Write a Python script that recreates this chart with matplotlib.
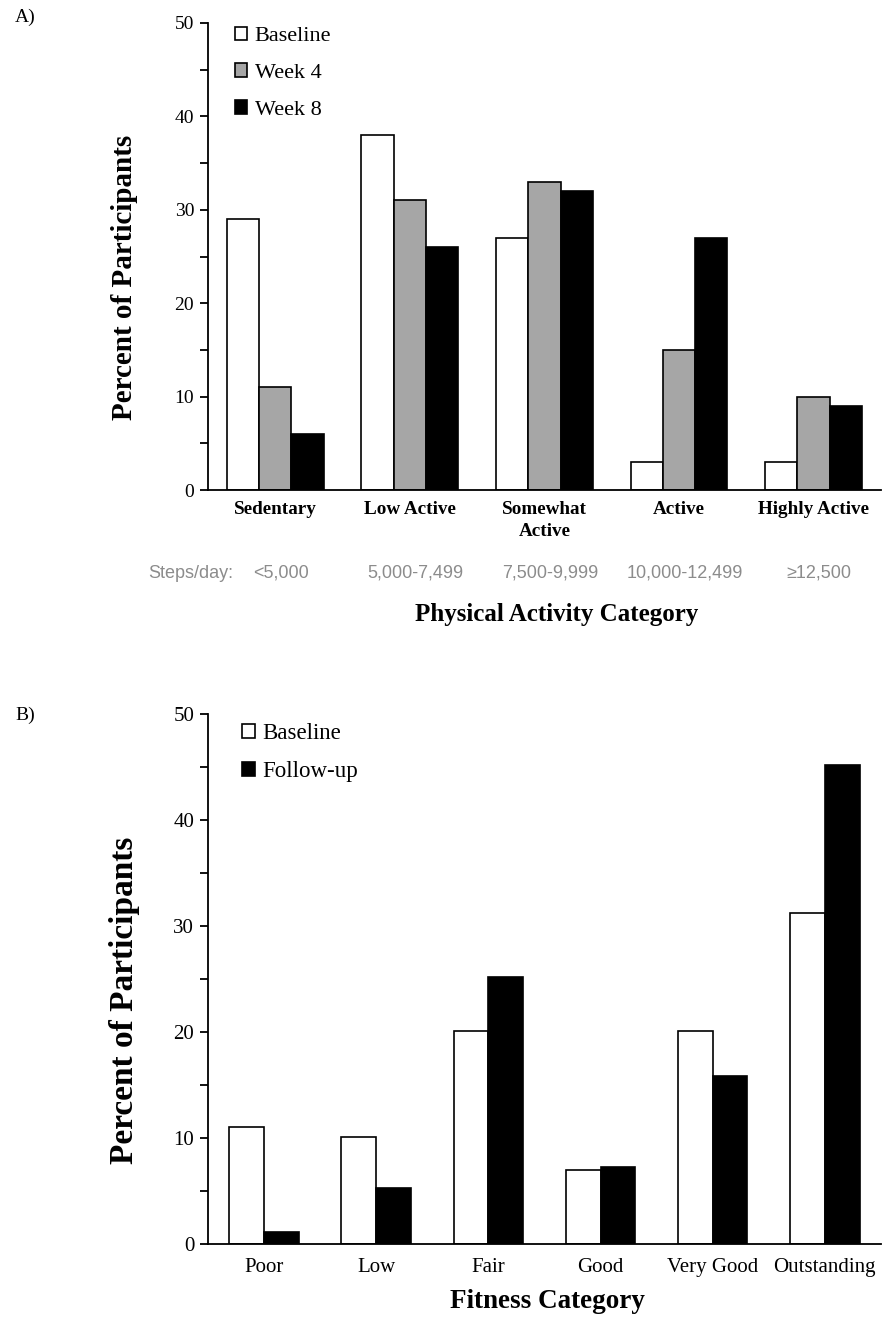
import matplotlib
matplotlib.use("Agg")
import matplotlib.pyplot as plt
from matplotlib.ticker import MultipleLocator
import numpy as np

plt.rcParams['font.family'] = ['Liberation Serif', 'DejaVu Serif']

# panel A data
activity_cats = ['Sedentary', 'Low Active', 'Somewhat\nActive', 'Active', 'Highly Active']
steps_ranges = ['<5,000', '5,000-7,499', '7,500-9,999', '10,000-12,499', '\u226512,500']
baseline_a = [29, 38, 27, 3, 3]
week4_a = [11, 31, 33, 15, 10]
week8_a = [6, 26, 32, 27, 9]

# panel B data
fitness_cats = ['Poor', 'Low', 'Fair', 'Good', 'Very Good', 'Outstanding']
baseline_b = [11.0, 10.1, 20.1, 7.0, 20.1, 31.2]
followup_b = [1.1, 5.3, 25.2, 7.3, 15.8, 45.2]

W, H = 883, 1327
fig = plt.figure(figsize=(W / 100, H / 100), dpi=100)


def style_axes(ax, tick_size):
    ax.spines['top'].set_visible(False)
    ax.spines['right'].set_visible(False)
    ax.spines['left'].set_linewidth(1.3)
    ax.spines['bottom'].set_linewidth(1.3)
    ax.set_ylim(0, 50)
    ax.yaxis.set_major_locator(MultipleLocator(10))
    ax.yaxis.set_minor_locator(MultipleLocator(5))
    ax.tick_params(axis='y', which='both', direction='out', length=6, width=1.3,
                   labelsize=tick_size, pad=4)
    ax.tick_params(axis='x', length=0)


# ---- panel A ----
axA = fig.add_axes([0.2356, 0.6307, 0.762, 0.352])
x = np.arange(len(activity_cats))
w = 0.24
axA.bar(x - w, baseline_a, w, color='white', edgecolor='black', linewidth=1.2, label='Baseline')
axA.bar(x, week4_a, w, color='#a6a6a6', edgecolor='black', linewidth=1.2, label='Week 4')
axA.bar(x + w, week8_a, w, color='black', edgecolor='black', linewidth=1.2, label='Week 8')
axA.set_xlim(-0.5, len(activity_cats) - 0.5)
style_axes(axA, 14)
axA.set_xticks(x)
axA.set_xticklabels(activity_cats, fontsize=13.8, fontweight='bold', va='top', linespacing=1.4)
axA.tick_params(axis='x', pad=8)
for xi, s in zip(x, steps_ranges):
    axA.text(xi + 0.04, -8.9, s, ha='center', va='center', fontsize=13,
             color='#8c8c8c', family=['Liberation Sans', 'DejaVu Sans'])
axA.text(-0.63, -8.9, 'Steps/day:', ha='center', va='center', fontsize=13,
         color='#8c8c8c', family=['Liberation Sans', 'DejaVu Sans'])
axA.legend(loc='upper left', bbox_to_anchor=(0.01, 1.035), frameon=False, fontsize=16,
           handlelength=0.55, handleheight=0.55, handletextpad=0.35, labelspacing=0.78)

# ---- panel B ----
axB = fig.add_axes([0.2356, 0.0626, 0.762, 0.3994])
xb = np.arange(len(fitness_cats))
wb = 0.31
axB.bar(xb - wb / 2, baseline_b, wb, color='white', edgecolor='black', linewidth=1.2, label='Baseline')
axB.bar(xb + wb / 2, followup_b, wb, color='black', edgecolor='black', linewidth=1.2, label='Follow-up')
axB.set_xlim(-0.5, len(fitness_cats) - 0.5)
style_axes(axB, 15)
axB.set_xticks(xb)
axB.set_xticklabels(fitness_cats, fontsize=15)
axB.tick_params(axis='x', pad=10)
axB.legend(loc='upper left', bbox_to_anchor=(0.02, 1.022), frameon=False, fontsize=16.5,
           handlelength=0.55, handleheight=0.55, handletextpad=0.35, labelspacing=0.75)

# axis titles
fig.text(125 / W, 1 - 277 / H, 'Percent of Participants', rotation=90, ha='center',
         va='center', fontsize=21, fontweight='bold')
fig.text(125 / W, 1 - 1000 / H, 'Percent of Participants', rotation=90, ha='center',
         va='center', fontsize=24, fontweight='bold')
fig.text(557 / W, 1 - 615 / H, 'Physical Activity Category', ha='center', va='center',
         fontsize=18, fontweight='bold')
fig.text(547 / W, 1 - 1301 / H, 'Fitness Category', ha='center', va='center',
         fontsize=19.5, fontweight='bold')

fig.text(15 / W, 1 - 17 / H, 'A)', fontsize=14, va='center', ha='left')
fig.text(15 / W, 1 - 715 / H, 'B)', fontsize=14, va='center', ha='left')

fig.savefig('out.png', dpi=100)
